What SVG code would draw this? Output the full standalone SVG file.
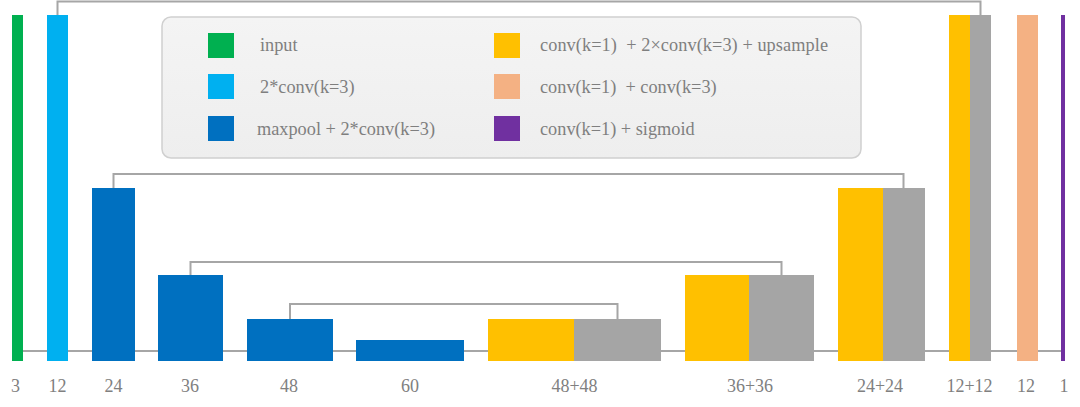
<svg xmlns="http://www.w3.org/2000/svg" width="1080" height="407" viewBox="0 0 1080 407">
<style>
  .conn { fill: none; stroke: #a6a6a6; stroke-width: 2; }
  .lbl { font-family: 'Liberation Serif', 'DejaVu Serif', serif; font-size: 18px; fill: #808080; text-anchor: middle; }
  .leg { font-family: 'Liberation Serif', 'DejaVu Serif', serif; font-size: 18.3px; fill: #7f7f7f; }
  .green { fill: #00b050; }
  .lblue { fill: #00b0f0; }
  .blue { fill: #0070c0; }
  .yellow { fill: #ffc000; }
  .gray { fill: #a5a5a5; }
  .peach { fill: #f4b183; }
  .purple { fill: #7030a0; }
</style>
<defs>
  <linearGradient id="legbg" x1="0" y1="0" x2="0" y2="1">
    <stop offset="0" stop-color="#f4f4f4"/>
    <stop offset="1" stop-color="#eeeeee"/>
  </linearGradient>
</defs>
<rect width="1080" height="407" fill="#ffffff"/>

<g id="connectors">
  <line class="conn" x1="18" y1="351" x2="1062" y2="351"/>
  <polyline class="conn" points="57.5,15 57.5,1.5 980.5,1.5 980.5,15"/>
  <polyline class="conn" points="113.5,188 113.5,174 903.5,174 903.5,188"/>
  <polyline class="conn" points="190.5,275 190.5,262 781.5,262 781.5,275"/>
  <polyline class="conn" points="290,319 290,304 617.5,304 617.5,319"/>
</g>

<g id="legend">
  <rect x="162" y="17" width="699" height="141" rx="9" fill="url(#legbg)" stroke="#d0d0d0" stroke-width="1.5"/>
  <rect class="green" x="208" y="33" width="26" height="25"/>
  <text class="leg" x="260" y="51">input</text>
  <rect class="lblue" x="208" y="74" width="26" height="25"/>
  <text class="leg" x="260" y="93">2*conv(k=3)</text>
  <rect class="blue" x="208" y="116" width="26" height="25"/>
  <text class="leg" x="257" y="135">maxpool + 2*conv(k=3)</text>
  <rect class="yellow" x="494" y="33" width="26" height="25"/>
  <text class="leg" x="540" y="51" textLength="288" xml:space="preserve">conv(k=1)  + 2×conv(k=3) + upsample</text>
  <rect class="peach" x="494" y="74" width="26" height="25"/>
  <text class="leg" x="540" y="93" xml:space="preserve">conv(k=1)  + conv(k=3)</text>
  <rect class="purple" x="494" y="116" width="26" height="25"/>
  <text class="leg" x="540" y="135">conv(k=1) + sigmoid</text>
</g>

<g id="n-input"><rect class="green" x="12" y="15" width="11" height="346"/><text class="lbl" x="15.5" y="392">3</text></g>
<g id="n-enc12"><rect class="lblue" x="47" y="15" width="21" height="346"/><text class="lbl" x="57.5" y="392">12</text></g>
<g id="n-enc24"><rect class="blue" x="92" y="188" width="43" height="173"/><text class="lbl" x="113.5" y="392">24</text></g>
<g id="n-enc36"><rect class="blue" x="158" y="275" width="65" height="86"/><text class="lbl" x="190" y="392">36</text></g>
<g id="n-enc48"><rect class="blue" x="247" y="319" width="86" height="42"/><text class="lbl" x="289" y="392">48</text></g>
<g id="n-enc60"><rect class="blue" x="356" y="340" width="108" height="21"/><text class="lbl" x="410" y="392">60</text></g>
<g id="n-dec48"><rect class="yellow" x="488" y="319" width="86" height="42"/><rect class="gray" x="574" y="319" width="87" height="42"/><text class="lbl" x="574.5" y="392">48+48</text></g>
<g id="n-dec36"><rect class="yellow" x="685" y="275" width="64" height="86"/><rect class="gray" x="749" y="275" width="65" height="86"/><text class="lbl" x="750" y="392">36+36</text></g>
<g id="n-dec24"><rect class="yellow" x="838" y="188" width="45" height="173"/><rect class="gray" x="883" y="188" width="42" height="173"/><text class="lbl" x="880" y="392">24+24</text></g>
<g id="n-dec12"><rect class="yellow" x="949" y="15" width="21" height="346"/><rect class="gray" x="970" y="15" width="21" height="346"/><text class="lbl" x="969.5" y="392">12+12</text></g>
<g id="n-conv12"><rect class="peach" x="1017" y="15" width="21" height="346"/><text class="lbl" x="1026" y="392">12</text></g>
<g id="n-out"><rect class="purple" x="1061" y="15" width="4" height="346"/><text class="lbl" x="1064" y="392">1</text></g>
</svg>
